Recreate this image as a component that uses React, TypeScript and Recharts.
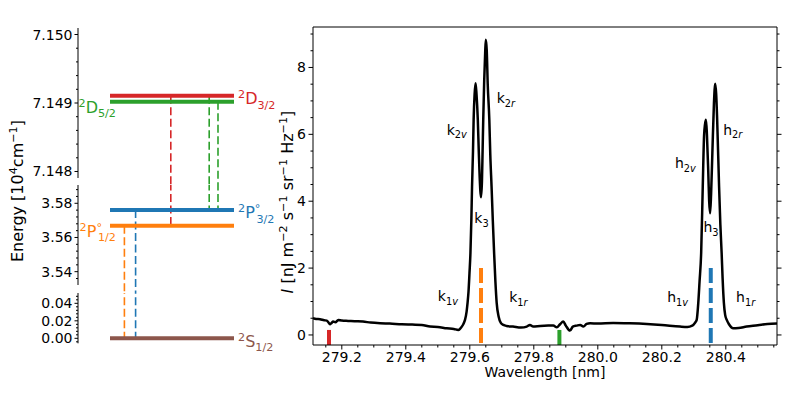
import React from 'react'
import { ComposedChart, Line, XAxis, YAxis, ReferenceLine, ReferenceDot } from 'recharts'

const FONT = "'DejaVu Sans', sans-serif"

// Mg II energy levels, 10^4 cm^-1
const levelEnergies = [0, 3.566931, 3.576088, 7.149019, 7.149106]
const levelColors = ['#8c564b', '#ff7f0e', '#1f77b4', '#2ca02c', '#d62728']
const levelTerms = ['S', 'P', 'P', 'D', 'D']
const levelJ = ['1/2', '1/2', '3/2', '5/2', '3/2']
const levelOdd = [false, true, true, false, false]
const levelLabelLeft = [false, true, false, true, false]

// transitions drawn on the diagram (indices into the level arrays)
const transUpper = [4, 4, 3, 1, 2]
const transLower = [1, 2, 2, 0, 0]
const transX = [0.58, 0.82, 0.875, 0.29, 0.36]
const transColors = ['#d62728', '#2ca02c', '#2ca02c', '#ff7f0e', '#1f77b4']

// broken energy axis
const topMajors = [7.148, 7.149, 7.15]
const topMinors = [7.1482, 7.1484, 7.1486, 7.1488, 7.1492, 7.1494, 7.1496, 7.1498]
const midMajors = [3.54, 3.56, 3.58]
const midMinors = [3.536, 3.544, 3.548, 3.552, 3.556, 3.564, 3.568, 3.572, 3.576, 3.584, 3.588]
const botMajors = [0, 0.02, 0.04]
const botMinors = [-0.004, 0.004, 0.008, 0.012, 0.016, 0.024, 0.028, 0.032, 0.036, 0.044, 0.048]

// spectrum around the Mg II h & k lines
const wavelength = [
  279.11, 279.12, 279.132, 279.145, 279.153, 279.158, 279.163, 279.168, 279.173, 279.18,
  279.189, 279.2, 279.22, 279.24, 279.266, 279.29, 279.32, 279.35, 279.387, 279.42,
  279.45, 279.476, 279.5, 279.528, 279.55, 279.564, 279.57, 279.575, 279.58, 279.585,
  279.59, 279.593, 279.596, 279.599, 279.602, 279.605, 279.607, 279.61, 279.612, 279.615,
  279.618, 279.621, 279.625, 279.628, 279.63, 279.633, 279.635, 279.638, 279.64, 279.642,
  279.645, 279.648, 279.65, 279.653, 279.656, 279.661, 279.664, 279.668, 279.672, 279.676,
  279.68, 279.684, 279.69, 279.697, 279.705, 279.715, 279.735, 279.76, 279.778, 279.788,
  279.798, 279.82, 279.845, 279.861, 279.872, 279.882, 279.892, 279.9, 279.913, 279.922,
  279.934, 279.945, 279.955, 279.965, 279.976, 280.0, 280.048, 280.1, 280.153, 280.2,
  280.257, 280.28, 280.295, 280.3, 280.305, 280.309, 280.314, 280.318, 280.323, 280.328,
  280.332, 280.335, 280.338, 280.341, 280.345, 280.348, 280.351, 280.354, 280.358, 280.363,
  280.367, 280.37, 280.373, 280.379, 280.383, 280.387, 280.39, 280.394, 280.398, 280.403,
  280.41, 280.423, 280.44, 280.465, 280.5, 280.53, 280.56
]
const intensity = [
  0.5, 0.48, 0.47, 0.44, 0.43, 0.38, 0.32, 0.36, 0.4, 0.38,
  0.45, 0.43, 0.42, 0.41, 0.4, 0.37, 0.35, 0.34, 0.32, 0.31,
  0.3, 0.25, 0.24, 0.2, 0.18, 0.15, 0.19, 0.25, 0.33, 0.45,
  0.7, 0.96, 1.3, 1.85, 2.45, 3.5, 4.44, 5.5, 6.44, 7.2,
  7.53, 7.2, 6.44, 5.5, 4.94, 4.3, 4.12, 4.6, 5.5, 6.44,
  7.6, 8.43, 8.83, 8.5, 7.5, 6.44, 5.4, 4.44, 3.4, 2.45,
  1.6, 0.96, 0.55, 0.36, 0.3, 0.27, 0.25, 0.22, 0.25, 0.3,
  0.25, 0.27, 0.28, 0.28, 0.23, 0.32, 0.4, 0.28, 0.13, 0.25,
  0.28, 0.3, 0.25, 0.33, 0.35, 0.34, 0.36, 0.35, 0.33, 0.3,
  0.25, 0.24, 0.28, 0.32, 0.38, 0.45, 0.96, 1.6, 2.45, 4.44,
  5.94, 6.3, 6.44, 6.0, 4.94, 4.0, 3.64, 4.2, 5.44, 6.94,
  7.51, 7.2, 6.44, 4.44, 3.3, 2.45, 1.7, 0.96, 0.6, 0.45,
  0.32, 0.2, 0.21, 0.25, 0.29, 0.33, 0.34
]

// line centres marked along the bottom of the spectrum
const markerW = [279.16, 279.635, 279.88, 280.353]
const markerTop = [0.15, 2.0, 0.15, 2.0]
const markerColors = ['#d62728', '#ff7f0e', '#2ca02c', '#1f77b4']
const markerDashed = [false, true, false, true]

// feature labels
const annLine = ['k', 'k', 'k', 'k', 'k', 'h', 'h', 'h', 'h', 'h']
const annSub = ['2', '2', '3', '1', '1', '2', '2', '3', '1', '1']
const annSide = ['v', 'r', '', 'v', 'r', 'v', 'r', '', 'v', 'r']
const annX = [279.528, 279.684, 279.614, 279.5, 279.723, 280.241, 280.392, 280.33, 280.217, 280.432]
const annY = [6.14, 7.09, 3.5, 1.17, 1.14, 5.15, 6.14, 3.23, 1.14, 1.14]

const specMajorsX = [279.2, 279.4, 279.6, 279.8, 280.0, 280.2, 280.4]
const specMinorsX = [279.15, 279.25, 279.3, 279.35, 279.45, 279.5, 279.55, 279.65, 279.7, 279.75,
  279.85, 279.9, 279.95, 280.05, 280.1, 280.15, 280.25, 280.3, 280.35, 280.45, 280.5, 280.55]
const specMajorsY = [0, 2, 4, 6, 8]
const specMinorsY = [0.5, 1, 1.5, 2.5, 3, 3.5, 4.5, 5, 5.5, 6.5, 7, 7.5, 8.5, 9]

type Part = { t: string; s?: 'sup' | 'sub'; i?: boolean; dx?: number }

const Rich = ({ x, y, parts, size, fill = '#000', anchor = 'start', rotate }: any) => {
  let cur = 0
  return (
    <text
      x={x}
      y={y}
      fontSize={size}
      fill={fill}
      textAnchor={anchor}
      fontFamily={FONT}
      transform={rotate ? `rotate(${rotate} ${x} ${y})` : undefined}
    >
      {(parts as Part[]).map((p, k) => {
        const target = p.s === 'sup' ? -0.38 * size : p.s === 'sub' ? 0.27 * size : 0
        const dy = target - cur
        cur = target
        return (
          <tspan key={k} dy={dy} dx={p.dx} fontSize={p.s ? size * 0.7 : size} fontStyle={p.i ? 'italic' : undefined}>
            {p.t}
          </tspan>
        )
      })}
    </text>
  )
}

const makeTick = (
  side: 'left' | 'right' | 'top' | 'bottom',
  majors: number[],
  fmt: ((v: number) => string) | null,
  majorLen: number,
  minorLen: number,
  pad: number
) => (p: any) => {
  const { x, y, payload } = p
  const v = payload.value
  const isMajor = majors.includes(v)
  const len = isMajor ? majorLen : minorLen
  let x2 = x
  let y2 = y
  if (side === 'left') x2 = x - len
  if (side === 'right') x2 = x + len
  if (side === 'top') y2 = y - len
  if (side === 'bottom') y2 = y + len
  return (
    <g>
      <line x1={x} y1={y} x2={x2} y2={y2} stroke="#000" strokeWidth={1} />
      {isMajor && fmt && side === 'left' && (
        <text x={x - pad} y={y + 5} textAnchor="end" fontSize={14} fontFamily={FONT} fill="#000">
          {fmt(v)}
        </text>
      )}
      {isMajor && fmt && side === 'bottom' && (
        <text x={x} y={y + pad} textAnchor="middle" fontSize={14} fontFamily={FONT} fill="#000">
          {fmt(v)}
        </text>
      )}
    </g>
  )
}

const levelStart = 0.2
const levelEnd = 0.975

const segments = [
  { top: 0, height: 185, mt: 28, mb: 7, domain: [7.147905, 7.150095], majors: topMajors, minors: topMinors, digits: 3 },
  { top: 185, height: 108, mt: 0, mb: 8, domain: [3.5322, 3.5907], majors: midMajors, minors: midMinors, digits: 2 },
  { top: 293, height: 104, mt: 0, mb: 53.7, domain: [-0.0057, 0.0518], majors: botMajors, minors: botMinors, digits: 2 }
]

const levelParts = (k: number): Part[] => {
  const parts: Part[] = [{ t: '2', s: 'sup' }, { t: levelTerms[k] }]
  if (levelOdd[k]) {
    parts.push({ t: '°', s: 'sup' })
    parts.push({ t: levelJ[k], s: 'sub', dx: -4 })
  } else {
    parts.push({ t: levelJ[k], s: 'sub' })
  }
  return parts
}

const EnergySegment = ({ seg }: any) => {
  const [lo, hi] = seg.domain
  const ext = (hi - lo) * 0.6
  return (
    <div style={{ position: 'absolute', left: 0, top: seg.top }}>
      <ComposedChart
        width={300}
        height={seg.height}
        data={levelEnergies.map((e) => ({ x: levelStart, e }))}
        margin={{ top: seg.mt, right: 62, bottom: seg.mb, left: 0 }}
      >
        <XAxis type="number" dataKey="x" domain={[0, 1]} hide allowDataOverflow />
        <YAxis
          type="number"
          domain={seg.domain}
          allowDataOverflow
          width={78}
          ticks={[...seg.majors, ...seg.minors]}
          interval={0}
          tickSize={0}
          tickMargin={0}
          tickLine={false}
          axisLine={{ stroke: '#000', strokeWidth: 1 }}
          tick={makeTick('left', seg.majors, (v) => v.toFixed(seg.digits), 3.5, 2, 5.5)}
        />
        {transUpper.map((u, k) => {
          const eu = levelEnergies[u]
          const el = levelEnergies[transLower[k]]
          if (!(el < hi && eu > lo)) return null
          return (
            <ReferenceLine
              key={'t' + k}
              segment={[
                { x: transX[k], y: Math.min(eu, hi + ext) },
                { x: transX[k], y: Math.max(el, lo - ext) }
              ]}
              ifOverflow="visible"
              stroke={transColors[k]}
              strokeWidth={1.6}
              strokeDasharray="8 3.5"
            />
          )
        })}
        {levelEnergies.map((e, k) =>
          e >= lo && e <= hi ? (
            <ReferenceLine
              key={'l' + k}
              segment={[
                { x: levelStart, y: e },
                { x: levelEnd, y: e }
              ]}
              ifOverflow="visible"
              stroke={levelColors[k]}
              strokeWidth={4}
            />
          ) : null
        )}
        {levelEnergies.map((e, k) =>
          e >= lo && e <= hi ? (
            <ReferenceDot
              key={'n' + k}
              x={levelLabelLeft[k] ? levelStart : levelEnd}
              y={e}
              r={0}
              ifOverflow="visible"
              shape={(p: any) => (
                <Rich
                  x={levelLabelLeft[k] ? p.cx + 6 : p.cx + 4}
                  y={levelLabelLeft[k] ? p.cy + 11 : p.cy + 8.5}
                  anchor={levelLabelLeft[k] ? 'end' : 'start'}
                  size={16}
                  fill={levelColors[k]}
                  parts={levelParts(k)}
                />
              )}
            />
          ) : null
        )}
      </ComposedChart>
    </div>
  )
}

const energyLabel: Part[] = [{ t: 'Energy [10' }, { t: '4', s: 'sup' }, { t: 'cm' }, { t: '−1', s: 'sup' }, { t: ']' }]
const intensityLabel: Part[] = [
  { t: 'I', i: true },
  { t: ' [nJ m' },
  { t: '−2', s: 'sup' },
  { t: ' s' },
  { t: '−1', s: 'sup' },
  { t: ' sr' },
  { t: '−1', s: 'sup' },
  { t: ' Hz' },
  { t: '−1', s: 'sup' },
  { t: ']' }
]

const spectrum = wavelength.map((w, k) => ({ w, i: intensity[k] }))
const specX = [279.11, 280.56]
const specY = [-0.3, 9.21]

const Spectrum = () => (
  <div style={{ position: 'absolute', left: 250, top: 0 }}>
    <ComposedChart width={543} height={397} data={spectrum} margin={{ top: 26, right: 0, bottom: 0, left: 0 }}>
      <XAxis
        dataKey="w"
        type="number"
        domain={specX}
        allowDataOverflow
        height={52}
        ticks={[...specMajorsX, ...specMinorsX]}
        interval={0}
        tickSize={0}
        tickMargin={0}
        tickLine={false}
        axisLine={{ stroke: '#000' }}
        tick={makeTick('bottom', specMajorsX, (v) => v.toFixed(1), 4.5, 2.5, 16.5)}
        label={{ value: 'Wavelength [nm]', position: 'insideBottom', offset: 20, fontSize: 14, fill: '#000', fontFamily: FONT }}
      />
      <XAxis
        xAxisId="top"
        orientation="top"
        type="number"
        domain={specX}
        allowDataOverflow
        height={1}
        ticks={[...specMajorsX, ...specMinorsX]}
        interval={0}
        tickSize={0}
        tickMargin={0}
        tickLine={false}
        axisLine={{ stroke: '#000' }}
        tick={makeTick('top', specMajorsX, null, 4.5, 2.5, 0)}
      />
      <YAxis
        type="number"
        domain={specY}
        allowDataOverflow
        width={63}
        ticks={[...specMajorsY, ...specMinorsY]}
        interval={0}
        tickSize={0}
        tickMargin={0}
        tickLine={false}
        axisLine={{ stroke: '#000' }}
        tick={makeTick('left', specMajorsY, (v) => String(v), 4.5, 2.5, 7)}
        label={{
          content: () => <Rich x={43} y={202} rotate={-90} anchor="middle" size={16} parts={intensityLabel} />
        }}
      />
      <YAxis
        yAxisId="right"
        orientation="right"
        type="number"
        domain={specY}
        allowDataOverflow
        width={16}
        ticks={[...specMajorsY, ...specMinorsY]}
        interval={0}
        tickSize={0}
        tickMargin={0}
        tickLine={false}
        axisLine={{ stroke: '#000' }}
        tick={makeTick('right', specMajorsY, null, 4.5, 2.5, 0)}
      />
      {markerW.map((w, k) => (
        <ReferenceLine
          key={'m' + k}
          segment={[
            { x: w, y: markerTop[k] },
            { x: w, y: specY[0] }
          ]}
          ifOverflow="visible"
          stroke={markerColors[k]}
          strokeWidth={4}
          strokeDasharray={markerDashed[k] ? '15 5' : undefined}
        />
      ))}
      <Line
        dataKey="i"
        type="monotone"
        stroke="#000"
        strokeWidth={2.5}
        dot={false}
        activeDot={false}
        isAnimationActive={false}
      />
      {annX.map((x, k) => (
        <ReferenceDot
          key={'a' + k}
          x={x}
          y={annY[k]}
          r={0}
          ifOverflow="visible"
          shape={(p: any) => (
            <Rich
              x={p.cx}
              y={p.cy + 5}
              size={14}
              parts={[
                { t: annLine[k] },
                { t: annSub[k], s: 'sub' },
                ...(annSide[k] ? [{ t: annSide[k], s: 'sub', i: true }] : [])
              ]}
            />
          )}
        />
      ))}
    </ComposedChart>
  </div>
)

export default function App() {
  return (
    <div style={{ position: 'absolute', left: 0, top: 0, width: 793, height: 397, background: '#fff' }}>
      {segments.map((seg, k) => (
        <EnergySegment key={k} seg={seg} />
      ))}
      <svg width={40} height={397} style={{ position: 'absolute', left: 0, top: 0 }}>
        <Rich x={23} y={191} rotate={-90} anchor="middle" size={16} parts={energyLabel} />
      </svg>
      <Spectrum />
    </div>
  )
}
